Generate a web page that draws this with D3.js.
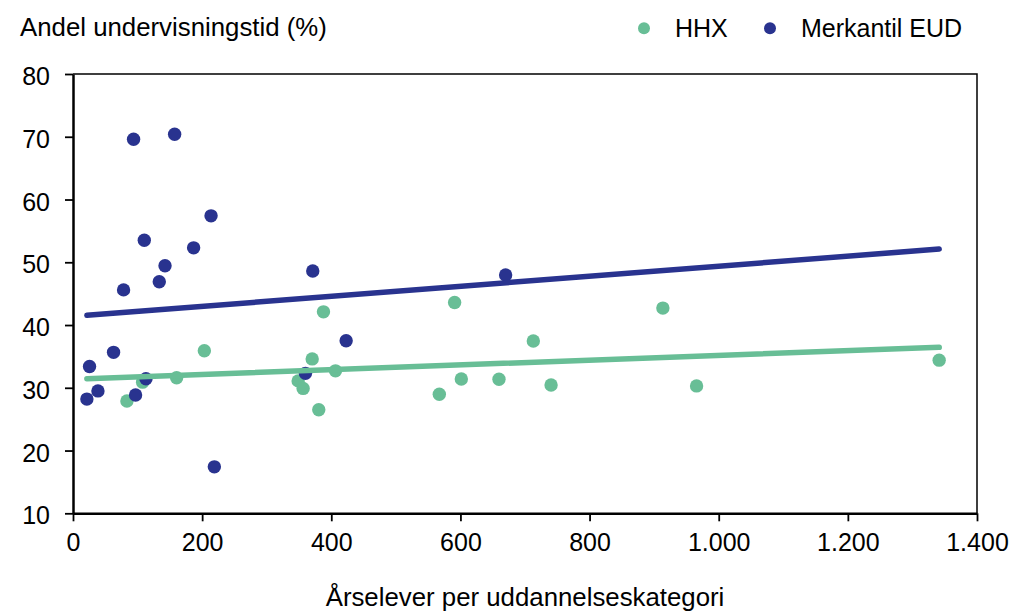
<!DOCTYPE html>
<html>
<head>
<meta charset="utf-8">
<script src="https://cdn.jsdelivr.net/npm/d3@7"></script>
<style>
  body { margin: 0; background: #fff; }
  text { font-family: "Liberation Sans", Arial, sans-serif; fill: #000; }
</style>
</head>
<body>
<div id="chart"></div>
<script>
// HHX points (årselever, andel %)
var hhxX = [83.5, 107.8, 160.5, 203.4, 348.7, 356.4, 370.4, 380.6, 387.9, 406.5, 567.3, 591, 601.4, 659.7, 712.9, 740.4, 913.5, 965.7, 1341.4]
var hhxY = [27.9, 30.9, 31.6, 35.9, 31.1, 29.9, 34.6, 26.5, 42.1, 32.7, 28.96, 43.6, 31.4, 31.35, 37.45, 30.45, 42.7, 30.3, 34.4]

// Merkantil EUD points
var eudX = [21.5, 25.6, 38.6, 62.8, 78.3, 93.8, 96.9, 110.4, 113, 133.6, 142.5, 157.4, 186.8, 213.8, 218.9, 360, 371.3, 423, 670]
var eudY = [28.2, 33.4, 29.5, 35.65, 45.6, 69.6, 28.85, 53.5, 31.45, 46.9, 49.45, 70.4, 52.3, 57.4, 17.4, 32.3, 48.6, 37.5, 47.96]

// trendlines (start / end)
var trendX = [21.5, 1341.5]
var hhxTrend = [31.45, 36.45]
var eudTrend = [41.55, 52.1]

var xTicks = [0, 200, 400, 600, 800, 1000, 1200, 1400]
var yTicks = [10, 20, 30, 40, 50, 60, 70, 80]

var width = 1013,
    height = 613,
    margin = {top: 74, right: 36, bottom: 100, left: 73}

var green = "#68be96",
    navy = "#29338f"

var svg = d3.select("#chart")
  .append("svg")
    .attr("width", width)
    .attr("height", height)

var x = d3.scaleLinear()
  .domain([0, 1400])
  .range([margin.left, width - margin.right])

var y = d3.scaleLinear()
  .domain([10, 80])
  .range([height - margin.bottom + 0.3, margin.top])

var locale = d3.formatLocale({decimal: ",", thousands: ".", grouping: [3], currency: ["", " kr"]})
var fmt = locale.format(",")

// top + right frame
svg.append("path")
  .attr("d", "M" + x(0) + "," + y(80) + "H" + x(1400) + "V" + y(10))
  .attr("fill", "none")
  .attr("stroke", "#000")
  .attr("stroke-width", 1.5)

var xAxis = svg.append("g")
  .attr("transform", "translate(0," + y(10) + ")")
  .call(d3.axisBottom(x).tickValues(xTicks).tickFormat(fmt).tickSize(8).tickSizeOuter(0))
xAxis.selectAll("text").attr("dy", "1.05em").style("font-size", "25px")

var yAxis = svg.append("g")
  .attr("transform", "translate(" + x(0) + ",0)")
  .call(d3.axisLeft(y).tickValues(yTicks).tickSize(8).tickSizeOuter(0))
yAxis.selectAll("text").attr("x", -23).attr("dy", "0.42em").style("font-size", "25px")

svg.selectAll(".domain").attr("stroke-width", 2.5)
svg.selectAll(".tick line").attr("stroke-width", 1.8)
svg.selectAll(".tick text").style("font-family", "Liberation Sans, Arial, sans-serif")

// dots
var hhx = d3.zip(hhxX, hhxY)
var eud = d3.zip(eudX, eudY)

svg.selectAll("hhxdots")
  .data(hhx)
  .enter()
  .append("circle")
    .attr("cx", function(d){ return x(d[0]) })
    .attr("cy", function(d){ return y(d[1]) })
    .attr("r", 6.7)
    .style("fill", green)

svg.selectAll("euddots")
  .data(eud)
  .enter()
  .append("circle")
    .attr("cx", function(d){ return x(d[0]) })
    .attr("cy", function(d){ return y(d[1]) })
    .attr("r", 6.7)
    .style("fill", navy)

// trendlines
var line = d3.line()
  .x(function(d){ return x(d[0]) })
  .y(function(d){ return y(d[1]) })

svg.append("path")
  .datum(d3.zip(trendX, eudTrend))
  .attr("d", line)
  .attr("fill", "none")
  .attr("stroke", navy)
  .attr("stroke-width", 5.5)
  .attr("stroke-linecap", "round")

svg.append("path")
  .datum(d3.zip(trendX, hhxTrend))
  .attr("d", line)
  .attr("fill", "none")
  .attr("stroke", green)
  .attr("stroke-width", 5.5)
  .attr("stroke-linecap", "round")

// titles
svg.append("text")
  .attr("x", 20)
  .attr("y", 36)
  .style("font-size", "25.8px")
  .text("Andel undervisningstid (%)")

svg.append("text")
  .attr("x", (x(0) + x(1400)) / 2)
  .attr("y", 606)
  .attr("text-anchor", "middle")
  .style("font-size", "25.8px")
  .text("Årselever per uddannelseskategori")

// legend
var keys = ["HHX", "Merkantil EUD"]
var legendX = [644, 770]
var legendColor = [green, navy]

svg.selectAll("legdots")
  .data(keys)
  .enter()
  .append("circle")
    .attr("cx", function(d, i){ return legendX[i] })
    .attr("cy", 28.3)
    .attr("r", 6)
    .style("fill", function(d, i){ return legendColor[i] })

svg.selectAll("leglabels")
  .data(keys)
  .enter()
  .append("text")
    .attr("x", function(d, i){ return legendX[i] + 31 })
    .attr("y", 37)
    .style("font-size", "25px")
    .text(function(d){ return d })
</script>
</body>
</html>
